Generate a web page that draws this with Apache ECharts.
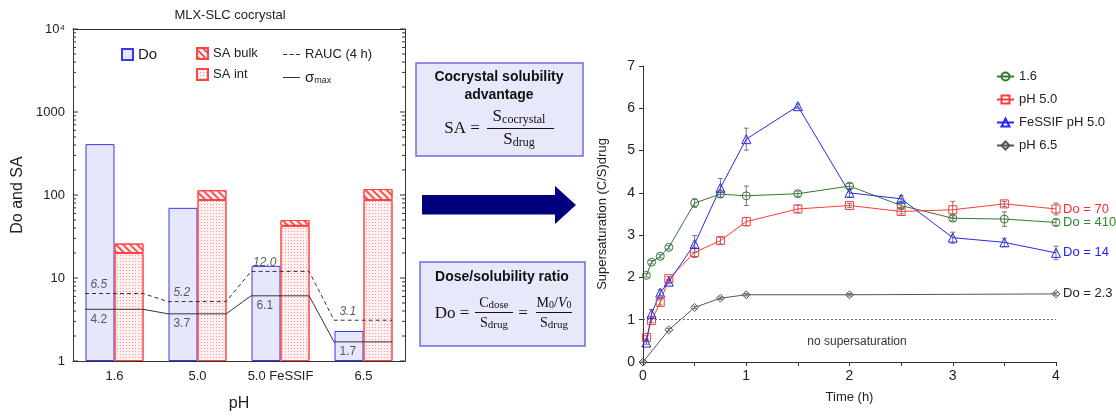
<!DOCTYPE html>
<html><head><meta charset="utf-8">
<script src="https://cdn.jsdelivr.net/npm/echarts@6/dist/echarts.min.js"></script>
<style>html,body{margin:0;padding:0;background:#fff}#c{width:1116px;height:417px}</style>
</head><body><div id="c"></div>
<script>
// ---------- Left panel data ----------
const phCats = ['1.6', '5.0', '5.0 FeSSIF', '6.5'];
const doValues = [410, 70, 14, 2.3];
const saInt = [20, 87, 42.5, 87];
const saBulk = [26, 114, 50, 118];
const raucValues = [6.5, 5.2, 12.0, 3.1];
const sigmaMaxValues = [4.2, 3.7, 6.1, 1.7];
const logMajorTicks = [1, 10, 100, 1000, 10000];

// ---------- Right panel data ----------
const times = [0.033, 0.083, 0.167, 0.25, 0.5, 0.75, 1, 1.5, 2, 2.5, 3, 3.5, 4];
const ph16 = [2.05, 2.36, 2.50, 2.71, 3.76, 3.97, 3.93, 3.98, 4.16, 3.70, 3.40, 3.38, 3.30];
const ph16Err = [0.04, 0.04, 0.04, 0.04, 0.10, 0.08, 0.23, 0.06, 0.06, 0.08, 0.06, 0.17, 0.08];
const ph50 = [0.58, 0.98, 1.41, 1.97, 2.59, 2.87, 3.32, 3.62, 3.70, 3.56, 3.60, 3.74, 3.62];
const ph50Err = [0.04, 0.05, 0.06, 0.05, 0.12, 0.08, 0.10, 0.09, 0.05, 0.06, 0.20, 0.06, 0.14];
const fessif = [0.46, 1.14, 1.64, 1.90, 2.79, 4.12, 5.27, 6.05, 4.00, 3.86, 2.94, 2.83, 2.58];
const fessifErr = [0.04, 0.10, 0.07, 0.05, 0.20, 0.22, 0.26, 0.05, 0.10, 0.07, 0.13, 0.10, 0.16];
const ph65Times = [0, 0.25, 0.5, 0.75, 1, 2, 4];
const ph65 = [0, 0.76, 1.29, 1.51, 1.59, 1.59, 1.61];
const ph65Err = [0.02, 0.03, 0.03, 0.03, 0.03, 0.03, 0.03];
const seriesNames = ['1.6', 'pH 5.0', 'FeSSIF pH 5.0', 'pH 6.5'];
const doLabels = ['Do = 410', 'Do = 70', 'Do = 14', 'Do = 2.3'];

// ---------- styling ----------
const SANS = '"Liberation Sans", Arial, sans-serif';
const SERIF = '"Liberation Serif", "Times New Roman", serif';
const INK = '#222';
const GREEN = '#327a32', RED = '#ff3a3a', BLUE = '#2828f0', GRAY = '#555';
const BLUE_DARK = '#3838f0';

const minorLog = [];
for (let k = 0; k < 4; k++) for (let m = 2; m <= 9; m++) minorLog.push(m * Math.pow(10, k));
const logTickData = logMajorTicks.map(v => [0, v, 5]).concat(minorLog.map(v => [0, v, 3]));

const chart = echarts.init(document.getElementById('c'));

function pairLine(vals) {
  const out = [];
  vals.forEach((v, i) => { out.push([i + 0.145, v]); out.push([i + 0.845, v]); });
  return out;
}

function errSeries(xs, ys, es) {
  return {
    type: 'custom', xAxisIndex: 3, yAxisIndex: 2, silent: true, z: 1,
    data: xs.map((x, i) => [x, ys[i], es[i]]),
    renderItem(params, api) {
      const x = api.value(0), y = api.value(1), e = api.value(2);
      const top = api.coord([x, y + e]), bot = api.coord([x, y - e]);
      const w = 2.5, st = { stroke: '#777', lineWidth: 1 };
      return { type: 'group', children: [
        { type: 'line', shape: { x1: top[0], y1: top[1], x2: bot[0], y2: bot[1] }, style: st },
        { type: 'line', shape: { x1: top[0] - w, y1: top[1], x2: top[0] + w, y2: top[1] }, style: st },
        { type: 'line', shape: { x1: bot[0] - w, y1: bot[1], x2: bot[0] + w, y2: bot[1] }, style: st }
      ]};
    }
  };
}

function dataSeries(name, xs, ys, color, symbol, size, labelText, labelColor) {
  return {
    name, type: 'line', xAxisIndex: 3, yAxisIndex: 2, z: 3,
    data: xs.map((x, i) => [x, ys[i]]),
    symbol, symbolSize: size, showAllSymbol: true,
    itemStyle: { color: 'rgba(255,255,255,0)', borderColor: color, borderWidth: 1 },
    lineStyle: { color, width: 1 },
    emphasis: { disabled: true },
    endLabel: { show: true, formatter: labelText, color: labelColor, fontSize: 13, fontFamily: SANS, distance: 7 }
  };
}

const AX = '#333';
const option = {
  animation: false,
  backgroundColor: '#fff',
  textStyle: { fontFamily: SANS },
  grid: [
    { left: 73, top: 29, width: 332, height: 334 },
    { left: 643, top: 66, width: 413, height: 296 }
  ],
  xAxis: [
    { type: 'category', gridIndex: 0, data: phCats, position: 'bottom',
      axisLine: { onZero: false, lineStyle: { color: AX } },
      axisTick: { inside: true, length: 4, lineStyle: { color: AX } },
      axisLabel: { interval: 0, fontSize: 13, color: INK, margin: 9, fontFamily: SANS },
      name: 'pH', nameLocation: 'middle', nameGap: 35,
      nameTextStyle: { fontSize: 16, color: INK, fontFamily: SANS } },
    { type: 'category', gridIndex: 0, data: phCats, position: 'top',
      axisLine: { onZero: false, lineStyle: { color: AX } },
      axisTick: { inside: true, length: 4, lineStyle: { color: AX } },
      axisLabel: { show: false } },
    { type: 'value', gridIndex: 0, min: 0, max: 4, show: false },
    { type: 'value', gridIndex: 1, min: 0, max: 4, interval: 0.5, position: 'bottom',
      axisLine: { onZero: false, lineStyle: { color: AX } },
      axisTick: { length: 4, lineStyle: { color: AX } },
      axisLabel: { fontSize: 14, color: INK, margin: 7, fontFamily: SANS,
        formatter: v => (Math.abs(v - Math.round(v)) < 1e-9 ? String(Math.round(v)) : '') },
      splitLine: { show: false },
      name: 'Time (h)', nameLocation: 'middle', nameGap: 29,
      nameTextStyle: { fontSize: 13, color: INK, fontFamily: SANS } }
  ],
  yAxis: [
    { type: 'log', gridIndex: 0, position: 'left', min: 1, max: 10000, logBase: 10,
      axisLine: { show: true, onZero: false, lineStyle: { color: AX } },
      axisTick: { show: false },
      axisLabel: { margin: 8, fontSize: 13, color: INK, fontFamily: SANS,
        formatter: v => (v >= 10000 ? '10\u2074' : String(Math.round(v))) },
      splitLine: { show: false },
      name: 'Do and SA', nameLocation: 'middle', nameGap: 47,
      nameTextStyle: { fontSize: 16, color: INK, fontFamily: SANS } },
    { type: 'log', gridIndex: 0, position: 'right', min: 1, max: 10000, logBase: 10,
      axisLine: { show: true, onZero: false, lineStyle: { color: AX } },
      axisTick: { show: false }, axisLabel: { show: false }, splitLine: { show: false } },
    { type: 'value', gridIndex: 1, position: 'left', min: 0, max: 7, interval: 1,
      axisLine: { show: true, onZero: false, lineStyle: { color: AX } },
      axisTick: { show: true, length: 4, lineStyle: { color: AX } },
      axisLabel: { fontSize: 14, color: INK, margin: 8, fontFamily: SANS },
      splitLine: { show: false },
      name: 'Supersaturation (C/S)drug', nameLocation: 'middle', nameGap: 34,
      nameTextStyle: { fontSize: 13, color: INK, fontFamily: SANS } }
  ],
  legend: [
    { data: [{ name: 'Do', icon: 'rect' }], left: 121, top: 47, padding: 0, itemWidth: 11, itemHeight: 11,
      selectedMode: false, textStyle: { fontSize: 15, color: INK, fontFamily: SANS } },
    { data: [{ name: 'SA bulk', icon: 'rect' }, { name: 'SA int', icon: 'rect' }], orient: 'vertical',
      left: 196, top: 47, padding: 0, itemGap: 8, itemWidth: 11, itemHeight: 11, selectedMode: false,
      textStyle: { fontSize: 13, color: INK, fontFamily: SANS } },
    { data: [
        { name: 'RAUC (4 h)', icon: 'path://M0,0h4v1h-4z M6,0h4v1h-4z M12,0h4v1h-4z' },
        { name: 'σmax', icon: 'path://M0,0h16v1h-16z' }],
      orient: 'vertical', left: 283, top: 48, padding: 0, itemGap: 9,
      itemWidth: 17, itemHeight: 12, selectedMode: false,
      formatter: n => (n === 'σmax' ? '{s|σ}{b|max}' : n),
      textStyle: { fontSize: 13, color: INK, fontFamily: SANS,
        rich: { s: { fontSize: 15, fontFamily: SANS, color: INK, lineHeight: 16 },
                b: { fontSize: 9, fontFamily: SANS, color: INK, verticalAlign: 'bottom', lineHeight: 8 } } } },
    { data: seriesNames, orient: 'vertical', left: 996, top: 70, padding: 0, itemGap: 10,
      itemWidth: 17, itemHeight: 10, selectedMode: false,
      textStyle: { fontSize: 13, color: INK, fontFamily: SANS } }
  ],
  graphic: [
    { type: 'text', style: { text: 'MLX-SLC cocrystal', x: 230, y: 15,
      font: '13px ' + SANS, fill: INK, align: 'center', verticalAlign: 'middle',
      textAlign: 'center', textVerticalAlign: 'middle' } },
    // Box 1
    { type: 'rect', shape: { x: 416, y: 63, width: 167, height: 93 },
      style: { fill: '#e8e8fb', stroke: '#6c6ce6', lineWidth: 1.5 } },
    { type: 'text', style: { text: 'Cocrystal solubility', x: 499, y: 77, font: 'bold 14px ' + SANS, fill: '#111',
      align: 'center', verticalAlign: 'middle', textAlign: 'center', textVerticalAlign: 'middle' } },
    { type: 'text', style: { text: 'advantage', x: 499, y: 95, font: 'bold 14px ' + SANS, fill: '#111',
      align: 'center', verticalAlign: 'middle', textAlign: 'center', textVerticalAlign: 'middle' } },
    { type: 'text', style: { text: 'SA =', x: 462, y: 129, font: '17px ' + SERIF, fill: '#111',
      align: 'center', verticalAlign: 'middle', textAlign: 'center', textVerticalAlign: 'middle' } },
    { type: 'text', style: { text: '{m|S}{s|cocrystal}', x: 519, y: 117, fill: '#111',
      align: 'center', verticalAlign: 'middle', textAlign: 'center', textVerticalAlign: 'middle',
      rich: { m: { fontSize: 17, fontFamily: SERIF, lineHeight: 18, fill: '#111' },
              s: { fontSize: 12, fontFamily: SERIF, lineHeight: 11, verticalAlign: 'bottom', fill: '#111' } } } },
    { type: 'line', shape: { x1: 487, y1: 128.5, x2: 554, y2: 128.5 }, style: { stroke: '#111', lineWidth: 1 } },
    { type: 'text', style: { text: '{m|S}{s|drug}', x: 519, y: 140, fill: '#111',
      align: 'center', verticalAlign: 'middle', textAlign: 'center', textVerticalAlign: 'middle',
      rich: { m: { fontSize: 17, fontFamily: SERIF, lineHeight: 18, fill: '#111' },
              s: { fontSize: 12, fontFamily: SERIF, lineHeight: 11, verticalAlign: 'bottom', fill: '#111' } } } },
    // Arrow
    { type: 'polygon', shape: { points: [[422, 195], [555, 195], [555, 186], [576, 205], [555, 224], [555, 214.5], [422, 214.5]] },
      style: { fill: '#00007f' } },
    // Box 2
    { type: 'rect', shape: { x: 420, y: 262, width: 165, height: 84 },
      style: { fill: '#e8e8fb', stroke: '#6c6ce6', lineWidth: 1.5 } },
    { type: 'text', style: { text: 'Dose/solubility ratio', x: 502, y: 277, font: 'bold 14px ' + SANS, fill: '#111',
      align: 'center', verticalAlign: 'middle', textAlign: 'center', textVerticalAlign: 'middle' } },
    { type: 'text', style: { text: 'Do =', x: 452, y: 314, font: '17px ' + SERIF, fill: '#111',
      align: 'center', verticalAlign: 'middle', textAlign: 'center', textVerticalAlign: 'middle' } },
    { type: 'text', style: { text: '{m|C}{s|dose}', x: 494, y: 303, fill: '#111',
      align: 'center', verticalAlign: 'middle', textAlign: 'center', textVerticalAlign: 'middle',
      rich: { m: { fontSize: 14, fontFamily: SERIF, lineHeight: 15, fill: '#111' },
              s: { fontSize: 11, fontFamily: SERIF, lineHeight: 10, verticalAlign: 'bottom', fill: '#111' } } } },
    { type: 'line', shape: { x1: 475, y1: 312.5, x2: 513, y2: 312.5 }, style: { stroke: '#111', lineWidth: 1 } },
    { type: 'text', style: { text: '{m|S}{s|drug}', x: 494, y: 323, fill: '#111',
      align: 'center', verticalAlign: 'middle', textAlign: 'center', textVerticalAlign: 'middle',
      rich: { m: { fontSize: 14, fontFamily: SERIF, lineHeight: 15, fill: '#111' },
              s: { fontSize: 11, fontFamily: SERIF, lineHeight: 10, verticalAlign: 'bottom', fill: '#111' } } } },
    { type: 'text', style: { text: '=', x: 523, y: 314, font: '17px ' + SERIF, fill: '#111',
      align: 'center', verticalAlign: 'middle', textAlign: 'center', textVerticalAlign: 'middle' } },
    { type: 'text', style: { text: '{m|M}{s|0}{m|/}{i|V}{s|0}', x: 554, y: 303, fill: '#111',
      align: 'center', verticalAlign: 'middle', textAlign: 'center', textVerticalAlign: 'middle',
      rich: { m: { fontSize: 14, fontFamily: SERIF, lineHeight: 15, fill: '#111' },
              i: { fontSize: 14, fontFamily: SERIF, fontStyle: 'italic', lineHeight: 15, fill: '#111' },
              s: { fontSize: 10, fontFamily: SERIF, lineHeight: 9, verticalAlign: 'bottom', fill: '#111' } } } },
    { type: 'line', shape: { x1: 536, y1: 312.5, x2: 572, y2: 312.5 }, style: { stroke: '#111', lineWidth: 1 } },
    { type: 'text', style: { text: '{m|S}{s|drug}', x: 554, y: 323, fill: '#111',
      align: 'center', verticalAlign: 'middle', textAlign: 'center', textVerticalAlign: 'middle',
      rich: { m: { fontSize: 14, fontFamily: SERIF, lineHeight: 15, fill: '#111' },
              s: { fontSize: 11, fontFamily: SERIF, lineHeight: 10, verticalAlign: 'bottom', fill: '#111' } } } },
    // right panel annotation
    { type: 'text', style: { text: 'no supersaturation', x: 857, y: 342, font: '12px ' + SANS, fill: '#333',
      align: 'center', verticalAlign: 'middle', textAlign: 'center', textVerticalAlign: 'middle' } }
  ],
  series: [
    { name: 'Do', type: 'bar', xAxisIndex: 0, yAxisIndex: 0, data: doValues,
      barWidth: 29, barGap: 0,
      itemStyle: { color: '#e6e7fb', borderColor: BLUE_DARK, borderWidth: 1 } },
    { name: 'SA int', type: 'bar', xAxisIndex: 0, yAxisIndex: 0, stack: 'sa', data: saInt,
      barWidth: 29, barGap: 0,
      itemStyle: { color: '#fff1f1', borderColor: '#ff4444', borderWidth: 1,
        decal: { symbol: 'rect', symbolSize: 1, dashArrayX: [1, 2], dashArrayY: [1, 2], color: '#ff9a9a' } } },
    { name: 'SA bulk', type: 'bar', xAxisIndex: 0, yAxisIndex: 0, stack: 'sa',
      data: saBulk.map((v, i) => v - saInt[i]),
      barWidth: 29, barGap: 0,
      itemStyle: { color: '#fff4f4', borderColor: '#ff4444', borderWidth: 1,
        decal: { symbol: 'rect', symbolSize: 1, dashArrayX: [1, 0], dashArrayY: [2, 3],
          rotation: Math.PI / 4, color: '#ff5050' } } },
    // log-axis ticks (major and minor) on both sides of the left frame
    { type: 'custom', xAxisIndex: 2, yAxisIndex: 0, silent: true, z: 6,
      data: logTickData,
      renderItem(params, api) {
        const v = api.value(1), len = api.value(2);
        const l = api.coord([0, v]), r = api.coord([4, v]);
        const st = { stroke: AX, lineWidth: 1 };
        return { type: 'group', children: [
          { type: 'line', shape: { x1: l[0], y1: l[1], x2: l[0] + len, y2: l[1] }, style: st },
          { type: 'line', shape: { x1: r[0] - len, y1: r[1], x2: r[0], y2: r[1] }, style: st }
        ]};
      } },
    { name: 'RAUC (4 h)', type: 'line', xAxisIndex: 2, yAxisIndex: 0, z: 4, data: pairLine(raucValues),
      symbol: 'none', lineStyle: { color: '#333', width: 1, type: [4, 3] }, itemStyle: { color: '#333' } },
    { name: 'σmax', type: 'line', xAxisIndex: 2, yAxisIndex: 0, z: 4, data: pairLine(sigmaMaxValues),
      symbol: 'none', lineStyle: { color: '#333', width: 1 }, itemStyle: { color: '#333' } },
    { type: 'scatter', xAxisIndex: 2, yAxisIndex: 0, z: 5, silent: true, symbolSize: 0,
      data: raucValues.map((v, i) => [i + 0.31, v]),
      label: { show: true, position: 'top', distance: 3, fontSize: 12, fontStyle: 'italic', color: '#333',
        fontFamily: SANS, formatter: p => p.value[1].toFixed(1) } },
    { type: 'scatter', xAxisIndex: 2, yAxisIndex: 0, z: 5, silent: true, symbolSize: 0,
      data: sigmaMaxValues.map((v, i) => [i + 0.31, v]),
      label: { show: true, position: 'bottom', distance: 4, fontSize: 12, color: '#333',
        fontFamily: SANS, formatter: p => p.value[1].toFixed(1) } },
    // right panel
    errSeries(times, ph16, ph16Err),
    errSeries(times, ph50, ph50Err),
    errSeries(times, fessif, fessifErr),
    errSeries(ph65Times, ph65, ph65Err),
    dataSeries(seriesNames[0], times, ph16, GREEN, 'circle', 8, doLabels[0], '#2e8a2e'),
    dataSeries(seriesNames[1], times, ph50, RED, 'rect', 8, doLabels[1], '#ff2a2a'),
    dataSeries(seriesNames[2], times, fessif, BLUE, 'triangle', 9, doLabels[2], '#2020ff'),
    Object.assign(dataSeries(seriesNames[3], ph65Times, ph65, GRAY, 'diamond', 8, doLabels[3], '#222'), {
      markLine: { silent: true, symbol: ['none', 'none'], label: { show: false },
        lineStyle: { color: '#666', width: 1, type: [2, 2] }, data: [{ yAxis: 1 }] } })
  ]
};
chart.setOption(option);
</script></body></html>
